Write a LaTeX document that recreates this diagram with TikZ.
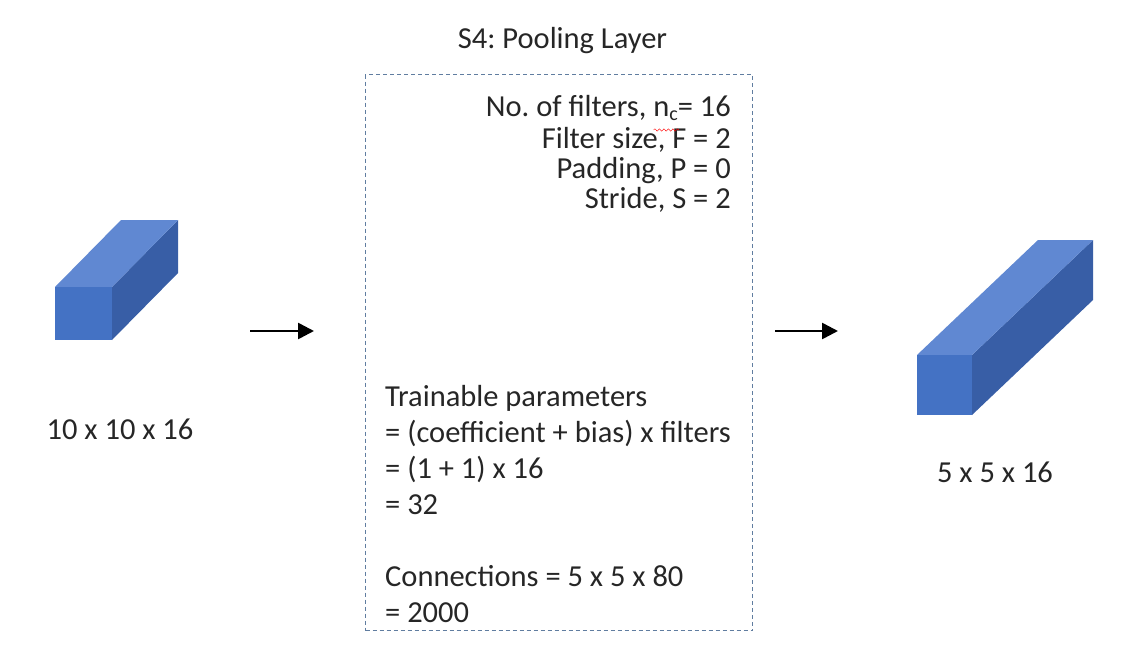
\documentclass[tikz,border=0pt]{standalone}
\usepackage{fontspec}
\setmainfont{Carlito}
\usetikzlibrary{arrows.meta,positioning,calc,decorations.pathmorphing}
\frenchspacing

\definecolor{txtgray}{RGB}{38,38,38}
\definecolor{dashblue}{RGB}{96,125,160}
\definecolor{cubefront}{RGB}{68,114,196}
\definecolor{cubetop}{RGB}{96,136,210}
\definecolor{cubeside}{RGB}{56,94,166}

% cuboid: x, y (front top left), width, height, depth dx, depth dy
\newcommand{\cuboid}[6]{%
  \fill[cubeside] (#1+#3,#2) -- ++(#5,-#6) -- ++(0,#4) -- ++(-#5,#6) -- cycle;
  \fill[cubetop] (#1,#2) -- ++(#5,-#6) -- ++(#3,0) -- ++(-#5,#6) -- cycle;
  \fill[cubefront] (#1,#2) rectangle ++(#3,#4);
}
\newcommand{\nsubc}{n\raisebox{-4pt}{\fontsize{20}{20}\selectfont c}}
\newlength\ncwd
\newlength\eqwd

\begin{document}
% widths for placing the spell-check wave under n_c
\setbox0\hbox{\fontsize{30.5}{30}\selectfont \nsubc}\global\ncwd=\wd0
\setbox0\hbox{\fontsize{30.5}{30}\selectfont = 16}\global\eqwd=\wd0
\begin{tikzpicture}[
  x=1pt, y=-1pt,
  >=Stealth,
  every node/.style={font=\fontsize{30.5}{36}\selectfont, text=txtgray, inner sep=0pt},
  flow/.style={line width=2.6pt, -{Triangle[length=16pt,width=16pt]}},
  layerbox/.style={draw=dashblue, line width=1pt, dash pattern=on 4pt off 3pt,
    minimum width=387pt, minimum height=556pt, anchor=north west}
]
  \useasboundingbox (0,0) rectangle (1136,648);

  % Input and output volumes
  \cuboid{55}{287}{57}{53}{66}{67}
  \cuboid{917}{355}{55}{60}{121}{115}

  \node (inlbl) [anchor=base] at (120,439) {10 x 10 x 16};
  \node (outlbl) [anchor=base] at (995,482) {5 x 5 x 16};

  % Pooling layer box
  \node (pool) [layerbox] at (365,74) {};
  \node (title) [anchor=base] at ($(pool.north)+(3.5,-26)$) {S4: Pooling Layer};

  % base of a multi-line node = baseline of its last line
  \node (hyper) [anchor=base east, align=right, font=\fontsize{30.5}{30}\selectfont]
    at (731,208) {No. of filters, \nsubc= 16\\[2pt]Filter size, F = 2\\Padding, P = 0\\Stride, S = 2};
  \draw[red, decorate, decoration={snake, amplitude=1.2pt, segment length=4.5pt}]
    ($(hyper.base east)+(-\eqwd-\ncwd,78pt)$) -- ++(\ncwd+1pt,0pt);

  \node (train) [anchor=base west, align=left] at (385,622)
    {Trainable parameters\\= (coefficient + bias) x filters\\= (1 + 1) x 16\\= 32\\[36pt]Connections = 5 x 5 x 80\\= 2000};

  % Arrows
  \coordinate (a1s) at (250,331);
  \coordinate (a1e) at (314,331);
  \coordinate (a2s) at (775,331);
  \coordinate (a2e) at (838,331);
  \draw[flow] (a1s) -- (a1e);
  \draw[flow] (a2s) -- (a2e);
\end{tikzpicture}
\end{document}
